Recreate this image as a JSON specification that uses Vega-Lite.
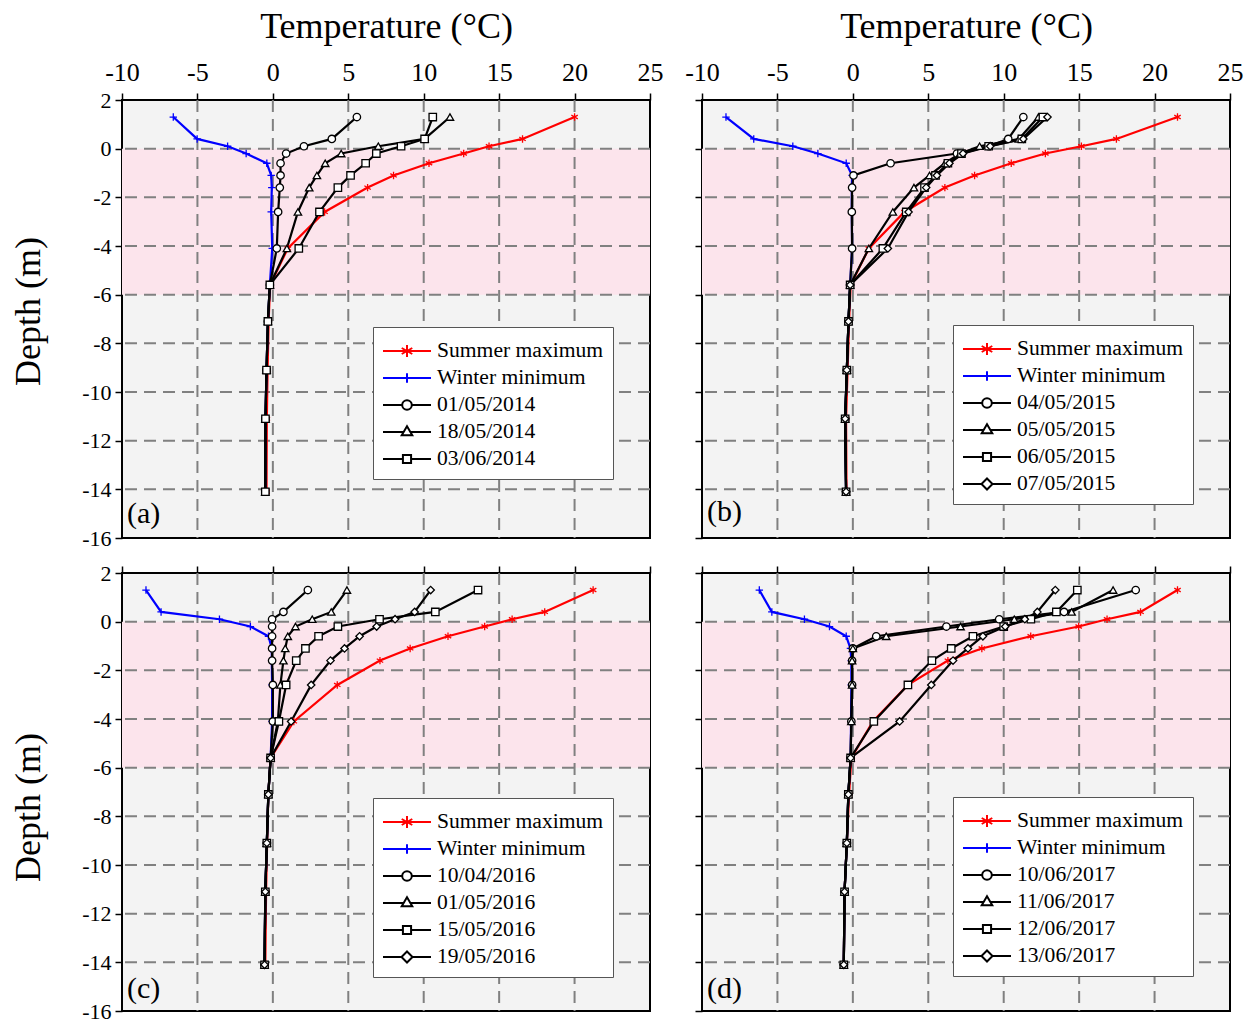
{
"$schema": "https://vega.github.io/schema/vega-lite/v6.json",
"background": "white",
"padding": {"left": 9, "top": 7, "right": 5, "bottom": 5},
"config": {
  "view": {"stroke": "black", "strokeWidth": 2, "fill": "#F3F3F3"},
  "axis": {"grid": false, "domain": false, "tickColor": "black", "tickWidth": 1.5, "labelFont": "Liberation Serif", "labelFontSize": 22, "labelColor": "black", "titleFont": "Liberation Serif", "titleFontSize": 36, "titleFontWeight": "normal", "titleColor": "black", "labelFlush": false, "labelOverlap": false, "labelBound": false},
  "legend": {"fillColor": "white", "strokeColor": "#555555", "padding": 9, "titleFontSize": 2, "titlePadding": 2, "symbolSize": 2304, "symbolStrokeWidth": 2, "symbolOpacity": 1, "symbolFillColor": "white", "labelFont": "Liberation Serif", "labelFontSize": 21.6, "labelColor": "black", "labelOffset": 5, "rowPadding": 5, "clipHeight": 22, "labelLimit": 400},
  "title": {"font": "Liberation Serif", "fontSize": 30, "fontWeight": "normal", "color": "black", "orient": "bottom", "anchor": "start", "frame": "group", "dx": 5}
},
"datasets": {
"a": [
{"series":"Summer maximum","depth":1.3,"temp":20.0},{"series":"Summer maximum","depth":0.4,"temp":16.55},{"series":"Summer maximum","depth":0.1,"temp":14.33},{"series":"Summer maximum","depth":-0.2,"temp":12.65},{"series":"Summer maximum","depth":-0.6,"temp":10.35},{"series":"Summer maximum","depth":-1.1,"temp":8.0},{"series":"Summer maximum","depth":-1.6,"temp":6.28},{"series":"Summer maximum","depth":-2.6,"temp":3.43},{"series":"Summer maximum","depth":-4.1,"temp":0.99},{"series":"Summer maximum","depth":-5.6,"temp":-0.18},{"series":"Summer maximum","depth":-7.1,"temp":-0.28},{"series":"Summer maximum","depth":-9.1,"temp":-0.35},{"series":"Summer maximum","depth":-11.1,"temp":-0.4},{"series":"Summer maximum","depth":-14.1,"temp":-0.42},
{"series":"Winter minimum","depth":1.3,"temp":-6.6},{"series":"Winter minimum","depth":0.4,"temp":-5.02},{"series":"Winter minimum","depth":0.1,"temp":-3.0},{"series":"Winter minimum","depth":-0.2,"temp":-1.77},{"series":"Winter minimum","depth":-0.6,"temp":-0.4},{"series":"Winter minimum","depth":-1.1,"temp":-0.11},{"series":"Winter minimum","depth":-1.6,"temp":-0.07},{"series":"Winter minimum","depth":-2.6,"temp":-0.11},{"series":"Winter minimum","depth":-4.1,"temp":-0.04},{"series":"Winter minimum","depth":-5.6,"temp":-0.2},{"series":"Winter minimum","depth":-7.1,"temp":-0.33},{"series":"Winter minimum","depth":-9.1,"temp":-0.42},{"series":"Winter minimum","depth":-11.1,"temp":-0.49},{"series":"Winter minimum","depth":-14.1,"temp":-0.5},
{"series":"01/05/2014","depth":1.3,"temp":5.57},{"series":"01/05/2014","depth":0.4,"temp":3.91},{"series":"01/05/2014","depth":0.1,"temp":2.06},{"series":"01/05/2014","depth":-0.2,"temp":0.88},{"series":"01/05/2014","depth":-0.6,"temp":0.51},{"series":"01/05/2014","depth":-1.1,"temp":0.51},{"series":"01/05/2014","depth":-1.6,"temp":0.46},{"series":"01/05/2014","depth":-2.6,"temp":0.35},{"series":"01/05/2014","depth":-4.1,"temp":0.26},{"series":"01/05/2014","depth":-5.6,"temp":-0.2},{"series":"01/05/2014","depth":-7.1,"temp":-0.33},{"series":"01/05/2014","depth":-9.1,"temp":-0.42},{"series":"01/05/2014","depth":-11.1,"temp":-0.49},{"series":"01/05/2014","depth":-14.1,"temp":-0.5},
{"series":"18/05/2014","depth":1.3,"temp":11.74},{"series":"18/05/2014","depth":0.4,"temp":10.06},{"series":"18/05/2014","depth":0.1,"temp":6.99},{"series":"18/05/2014","depth":-0.2,"temp":4.53},{"series":"18/05/2014","depth":-0.6,"temp":3.47},{"series":"18/05/2014","depth":-1.1,"temp":2.92},{"series":"18/05/2014","depth":-1.6,"temp":2.41},{"series":"18/05/2014","depth":-2.6,"temp":1.66},{"series":"18/05/2014","depth":-4.1,"temp":0.93},{"series":"18/05/2014","depth":-5.6,"temp":-0.2},{"series":"18/05/2014","depth":-7.1,"temp":-0.33},{"series":"18/05/2014","depth":-9.1,"temp":-0.42},{"series":"18/05/2014","depth":-11.1,"temp":-0.49},{"series":"18/05/2014","depth":-14.1,"temp":-0.5},
{"series":"03/06/2014","depth":1.3,"temp":10.6},{"series":"03/06/2014","depth":0.4,"temp":10.06},{"series":"03/06/2014","depth":0.1,"temp":8.5},{"series":"03/06/2014","depth":-0.2,"temp":6.86},{"series":"03/06/2014","depth":-0.6,"temp":6.15},{"series":"03/06/2014","depth":-1.1,"temp":5.15},{"series":"03/06/2014","depth":-1.6,"temp":4.31},{"series":"03/06/2014","depth":-2.6,"temp":3.09},{"series":"03/06/2014","depth":-4.1,"temp":1.72},{"series":"03/06/2014","depth":-5.6,"temp":-0.2},{"series":"03/06/2014","depth":-7.1,"temp":-0.33},{"series":"03/06/2014","depth":-9.1,"temp":-0.42},{"series":"03/06/2014","depth":-11.1,"temp":-0.49},{"series":"03/06/2014","depth":-14.1,"temp":-0.5}
],
"b": [
{"series":"Summer maximum","depth":1.3,"temp":21.52},{"series":"Summer maximum","depth":0.4,"temp":17.47},{"series":"Summer maximum","depth":0.1,"temp":15.15},{"series":"Summer maximum","depth":-0.2,"temp":12.76},{"series":"Summer maximum","depth":-0.6,"temp":10.5},{"series":"Summer maximum","depth":-1.1,"temp":8.07},{"series":"Summer maximum","depth":-1.6,"temp":6.1},{"series":"Summer maximum","depth":-2.6,"temp":3.42},{"series":"Summer maximum","depth":-4.1,"temp":1.06},{"series":"Summer maximum","depth":-5.6,"temp":-0.15},{"series":"Summer maximum","depth":-7.1,"temp":-0.25},{"series":"Summer maximum","depth":-9.1,"temp":-0.35},{"series":"Summer maximum","depth":-11.1,"temp":-0.45},{"series":"Summer maximum","depth":-14.1,"temp":-0.42},
{"series":"Winter minimum","depth":1.3,"temp":-8.41},{"series":"Winter minimum","depth":0.4,"temp":-6.57},{"series":"Winter minimum","depth":0.1,"temp":-3.98},{"series":"Winter minimum","depth":-0.2,"temp":-2.32},{"series":"Winter minimum","depth":-0.6,"temp":-0.44},{"series":"Winter minimum","depth":-1.1,"temp":-0.05},{"series":"Winter minimum","depth":-1.6,"temp":-0.07},{"series":"Winter minimum","depth":-2.6,"temp":-0.07},{"series":"Winter minimum","depth":-4.1,"temp":-0.05},{"series":"Winter minimum","depth":-5.6,"temp":-0.18},{"series":"Winter minimum","depth":-7.1,"temp":-0.29},{"series":"Winter minimum","depth":-9.1,"temp":-0.4},{"series":"Winter minimum","depth":-11.1,"temp":-0.51},{"series":"Winter minimum","depth":-14.1,"temp":-0.45},
{"series":"04/05/2015","depth":1.3,"temp":11.3},{"series":"04/05/2015","depth":0.4,"temp":10.3},{"series":"04/05/2015","depth":0.1,"temp":9.0},{"series":"04/05/2015","depth":-0.2,"temp":6.9},{"series":"04/05/2015","depth":-0.6,"temp":2.5},{"series":"04/05/2015","depth":-1.1,"temp":0.04},{"series":"04/05/2015","depth":-1.6,"temp":-0.05},{"series":"04/05/2015","depth":-2.6,"temp":-0.07},{"series":"04/05/2015","depth":-4.1,"temp":-0.05},{"series":"04/05/2015","depth":-5.6,"temp":-0.18},{"series":"04/05/2015","depth":-7.1,"temp":-0.29},{"series":"04/05/2015","depth":-9.1,"temp":-0.4},{"series":"04/05/2015","depth":-11.1,"temp":-0.51},{"series":"04/05/2015","depth":-14.1,"temp":-0.45},
{"series":"05/05/2015","depth":1.3,"temp":12.3},{"series":"05/05/2015","depth":0.4,"temp":11.0},{"series":"05/05/2015","depth":0.1,"temp":8.4},{"series":"05/05/2015","depth":-0.2,"temp":7.1},{"series":"05/05/2015","depth":-0.6,"temp":6.1},{"series":"05/05/2015","depth":-1.1,"temp":5.08},{"series":"05/05/2015","depth":-1.6,"temp":4.05},{"series":"05/05/2015","depth":-2.6,"temp":2.65},{"series":"05/05/2015","depth":-4.1,"temp":1.06},{"series":"05/05/2015","depth":-5.6,"temp":-0.18},{"series":"05/05/2015","depth":-7.1,"temp":-0.29},{"series":"05/05/2015","depth":-9.1,"temp":-0.4},{"series":"05/05/2015","depth":-11.1,"temp":-0.51},{"series":"05/05/2015","depth":-14.1,"temp":-0.45},
{"series":"06/05/2015","depth":1.3,"temp":12.6},{"series":"06/05/2015","depth":0.4,"temp":11.2},{"series":"06/05/2015","depth":0.1,"temp":9.0},{"series":"06/05/2015","depth":-0.2,"temp":7.2},{"series":"06/05/2015","depth":-0.6,"temp":6.3},{"series":"06/05/2015","depth":-1.1,"temp":5.48},{"series":"06/05/2015","depth":-1.6,"temp":4.75},{"series":"06/05/2015","depth":-2.6,"temp":3.54},{"series":"06/05/2015","depth":-4.1,"temp":1.99},{"series":"06/05/2015","depth":-5.6,"temp":-0.18},{"series":"06/05/2015","depth":-7.1,"temp":-0.29},{"series":"06/05/2015","depth":-9.1,"temp":-0.4},{"series":"06/05/2015","depth":-11.1,"temp":-0.51},{"series":"06/05/2015","depth":-14.1,"temp":-0.45},
{"series":"07/05/2015","depth":1.3,"temp":12.9},{"series":"07/05/2015","depth":0.4,"temp":11.3},{"series":"07/05/2015","depth":0.1,"temp":9.1},{"series":"07/05/2015","depth":-0.2,"temp":7.3},{"series":"07/05/2015","depth":-0.6,"temp":6.4},{"series":"07/05/2015","depth":-1.1,"temp":5.57},{"series":"07/05/2015","depth":-1.6,"temp":4.86},{"series":"07/05/2015","depth":-2.6,"temp":3.69},{"series":"07/05/2015","depth":-4.1,"temp":2.32},{"series":"07/05/2015","depth":-5.6,"temp":-0.18},{"series":"07/05/2015","depth":-7.1,"temp":-0.29},{"series":"07/05/2015","depth":-9.1,"temp":-0.4},{"series":"07/05/2015","depth":-11.1,"temp":-0.51},{"series":"07/05/2015","depth":-14.1,"temp":-0.45}
],
"c": [
{"series":"Summer maximum","depth":1.3,"temp":21.23},{"series":"Summer maximum","depth":0.4,"temp":18.02},{"series":"Summer maximum","depth":0.1,"temp":15.86},{"series":"Summer maximum","depth":-0.2,"temp":14.04},{"series":"Summer maximum","depth":-0.6,"temp":11.61},{"series":"Summer maximum","depth":-1.1,"temp":9.1},{"series":"Summer maximum","depth":-1.6,"temp":7.1},{"series":"Summer maximum","depth":-2.6,"temp":4.27},{"series":"Summer maximum","depth":-4.1,"temp":1.39},{"series":"Summer maximum","depth":-5.6,"temp":-0.15},{"series":"Summer maximum","depth":-7.1,"temp":-0.3},{"series":"Summer maximum","depth":-9.1,"temp":-0.38},{"series":"Summer maximum","depth":-11.1,"temp":-0.45},{"series":"Summer maximum","depth":-14.1,"temp":-0.5},
{"series":"Winter minimum","depth":1.3,"temp":-8.41},{"series":"Winter minimum","depth":0.4,"temp":-7.41},{"series":"Winter minimum","depth":0.1,"temp":-3.54},{"series":"Winter minimum","depth":-0.2,"temp":-1.49},{"series":"Winter minimum","depth":-0.6,"temp":-0.29},{"series":"Winter minimum","depth":-1.1,"temp":-0.07},{"series":"Winter minimum","depth":-1.6,"temp":-0.07},{"series":"Winter minimum","depth":-2.6,"temp":-0.05},{"series":"Winter minimum","depth":-4.1,"temp":-0.05},{"series":"Winter minimum","depth":-5.6,"temp":-0.15},{"series":"Winter minimum","depth":-7.1,"temp":-0.3},{"series":"Winter minimum","depth":-9.1,"temp":-0.4},{"series":"Winter minimum","depth":-11.1,"temp":-0.5},{"series":"Winter minimum","depth":-14.1,"temp":-0.55},
{"series":"10/04/2016","depth":1.3,"temp":2.32},{"series":"10/04/2016","depth":0.4,"temp":0.7},{"series":"10/04/2016","depth":0.1,"temp":-0.05},{"series":"10/04/2016","depth":-0.2,"temp":-0.05},{"series":"10/04/2016","depth":-0.6,"temp":-0.05},{"series":"10/04/2016","depth":-1.1,"temp":-0.05},{"series":"10/04/2016","depth":-1.6,"temp":-0.05},{"series":"10/04/2016","depth":-2.6,"temp":0.0},{"series":"10/04/2016","depth":-4.1,"temp":0.0},{"series":"10/04/2016","depth":-5.6,"temp":-0.15},{"series":"10/04/2016","depth":-7.1,"temp":-0.3},{"series":"10/04/2016","depth":-9.1,"temp":-0.4},{"series":"10/04/2016","depth":-11.1,"temp":-0.5},{"series":"10/04/2016","depth":-14.1,"temp":-0.55},
{"series":"01/05/2016","depth":1.3,"temp":4.91},{"series":"01/05/2016","depth":0.4,"temp":3.87},{"series":"01/05/2016","depth":0.1,"temp":2.61},{"series":"01/05/2016","depth":-0.2,"temp":1.5},{"series":"01/05/2016","depth":-0.6,"temp":0.99},{"series":"01/05/2016","depth":-1.1,"temp":0.82},{"series":"01/05/2016","depth":-1.6,"temp":0.7},{"series":"01/05/2016","depth":-2.6,"temp":0.5},{"series":"01/05/2016","depth":-4.1,"temp":0.33},{"series":"01/05/2016","depth":-5.6,"temp":-0.15},{"series":"01/05/2016","depth":-7.1,"temp":-0.3},{"series":"01/05/2016","depth":-9.1,"temp":-0.4},{"series":"01/05/2016","depth":-11.1,"temp":-0.5},{"series":"01/05/2016","depth":-14.1,"temp":-0.55},
{"series":"15/05/2016","depth":1.3,"temp":13.6},{"series":"15/05/2016","depth":0.4,"temp":10.77},{"series":"15/05/2016","depth":0.1,"temp":7.07},{"series":"15/05/2016","depth":-0.2,"temp":4.31},{"series":"15/05/2016","depth":-0.6,"temp":3.03},{"series":"15/05/2016","depth":-1.1,"temp":2.16},{"series":"15/05/2016","depth":-1.6,"temp":1.55},{"series":"15/05/2016","depth":-2.6,"temp":0.88},{"series":"15/05/2016","depth":-4.1,"temp":0.4},{"series":"15/05/2016","depth":-5.6,"temp":-0.15},{"series":"15/05/2016","depth":-7.1,"temp":-0.3},{"series":"15/05/2016","depth":-9.1,"temp":-0.4},{"series":"15/05/2016","depth":-11.1,"temp":-0.5},{"series":"15/05/2016","depth":-14.1,"temp":-0.55},
{"series":"19/05/2016","depth":1.3,"temp":10.46},{"series":"19/05/2016","depth":0.4,"temp":9.4},{"series":"19/05/2016","depth":0.1,"temp":8.1},{"series":"19/05/2016","depth":-0.2,"temp":6.88},{"series":"19/05/2016","depth":-0.6,"temp":5.75},{"series":"19/05/2016","depth":-1.1,"temp":4.75},{"series":"19/05/2016","depth":-1.6,"temp":3.82},{"series":"19/05/2016","depth":-2.6,"temp":2.54},{"series":"19/05/2016","depth":-4.1,"temp":1.21},{"series":"19/05/2016","depth":-5.6,"temp":-0.15},{"series":"19/05/2016","depth":-7.1,"temp":-0.3},{"series":"19/05/2016","depth":-9.1,"temp":-0.4},{"series":"19/05/2016","depth":-11.1,"temp":-0.5},{"series":"19/05/2016","depth":-14.1,"temp":-0.55}
],
"d": [
{"series":"Summer maximum","depth":1.3,"temp":21.52},{"series":"Summer maximum","depth":0.4,"temp":19.07},{"series":"Summer maximum","depth":0.1,"temp":16.85},{"series":"Summer maximum","depth":-0.2,"temp":14.97},{"series":"Summer maximum","depth":-0.6,"temp":11.79},{"series":"Summer maximum","depth":-1.1,"temp":8.55},{"series":"Summer maximum","depth":-1.6,"temp":6.3},{"series":"Summer maximum","depth":-2.6,"temp":3.65},{"series":"Summer maximum","depth":-4.1,"temp":1.33},{"series":"Summer maximum","depth":-5.6,"temp":-0.1},{"series":"Summer maximum","depth":-7.1,"temp":-0.25},{"series":"Summer maximum","depth":-9.1,"temp":-0.4},{"series":"Summer maximum","depth":-11.1,"temp":-0.55},{"series":"Summer maximum","depth":-14.1,"temp":-0.6},
{"series":"Winter minimum","depth":1.3,"temp":-6.2},{"series":"Winter minimum","depth":0.4,"temp":-5.37},{"series":"Winter minimum","depth":0.1,"temp":-3.21},{"series":"Winter minimum","depth":-0.2,"temp":-1.55},{"series":"Winter minimum","depth":-0.6,"temp":-0.44},{"series":"Winter minimum","depth":-1.1,"temp":-0.16},{"series":"Winter minimum","depth":-1.6,"temp":-0.1},{"series":"Winter minimum","depth":-2.6,"temp":-0.1},{"series":"Winter minimum","depth":-4.1,"temp":-0.12},{"series":"Winter minimum","depth":-5.6,"temp":-0.15},{"series":"Winter minimum","depth":-7.1,"temp":-0.3},{"series":"Winter minimum","depth":-9.1,"temp":-0.4},{"series":"Winter minimum","depth":-11.1,"temp":-0.55},{"series":"Winter minimum","depth":-14.1,"temp":-0.6},
{"series":"10/06/2017","depth":1.3,"temp":18.75},{"series":"10/06/2017","depth":0.4,"temp":14.0},{"series":"10/06/2017","depth":0.1,"temp":9.7},{"series":"10/06/2017","depth":-0.2,"temp":6.2},{"series":"10/06/2017","depth":-0.6,"temp":1.55},{"series":"10/06/2017","depth":-1.1,"temp":0.0},{"series":"10/06/2017","depth":-1.6,"temp":-0.05},{"series":"10/06/2017","depth":-2.6,"temp":-0.05},{"series":"10/06/2017","depth":-4.1,"temp":-0.1},{"series":"10/06/2017","depth":-5.6,"temp":-0.15},{"series":"10/06/2017","depth":-7.1,"temp":-0.3},{"series":"10/06/2017","depth":-9.1,"temp":-0.4},{"series":"10/06/2017","depth":-11.1,"temp":-0.55},{"series":"10/06/2017","depth":-14.1,"temp":-0.6},
{"series":"11/06/2017","depth":1.3,"temp":17.25},{"series":"11/06/2017","depth":0.4,"temp":14.5},{"series":"11/06/2017","depth":0.1,"temp":10.7},{"series":"11/06/2017","depth":-0.2,"temp":7.14},{"series":"11/06/2017","depth":-0.6,"temp":2.21},{"series":"11/06/2017","depth":-1.1,"temp":0.0},{"series":"11/06/2017","depth":-1.6,"temp":-0.05},{"series":"11/06/2017","depth":-2.6,"temp":-0.05},{"series":"11/06/2017","depth":-4.1,"temp":-0.1},{"series":"11/06/2017","depth":-5.6,"temp":-0.15},{"series":"11/06/2017","depth":-7.1,"temp":-0.3},{"series":"11/06/2017","depth":-9.1,"temp":-0.4},{"series":"11/06/2017","depth":-11.1,"temp":-0.55},{"series":"11/06/2017","depth":-14.1,"temp":-0.6},
{"series":"12/06/2017","depth":1.3,"temp":14.88},{"series":"12/06/2017","depth":0.4,"temp":13.49},{"series":"12/06/2017","depth":0.1,"temp":11.8},{"series":"12/06/2017","depth":-0.2,"temp":10.0},{"series":"12/06/2017","depth":-0.6,"temp":7.96},{"series":"12/06/2017","depth":-1.1,"temp":6.52},{"series":"12/06/2017","depth":-1.6,"temp":5.24},{"series":"12/06/2017","depth":-2.6,"temp":3.65},{"series":"12/06/2017","depth":-4.1,"temp":1.39},{"series":"12/06/2017","depth":-5.6,"temp":-0.15},{"series":"12/06/2017","depth":-7.1,"temp":-0.3},{"series":"12/06/2017","depth":-9.1,"temp":-0.4},{"series":"12/06/2017","depth":-11.1,"temp":-0.55},{"series":"12/06/2017","depth":-14.1,"temp":-0.6},
{"series":"13/06/2017","depth":1.3,"temp":13.42},{"series":"13/06/2017","depth":0.4,"temp":12.23},{"series":"13/06/2017","depth":0.1,"temp":11.4},{"series":"13/06/2017","depth":-0.2,"temp":10.1},{"series":"13/06/2017","depth":-0.6,"temp":8.62},{"series":"13/06/2017","depth":-1.1,"temp":7.63},{"series":"13/06/2017","depth":-1.6,"temp":6.64},{"series":"13/06/2017","depth":-2.6,"temp":5.2},{"series":"13/06/2017","depth":-4.1,"temp":3.1},{"series":"13/06/2017","depth":-5.6,"temp":-0.15},{"series":"13/06/2017","depth":-7.1,"temp":-0.3},{"series":"13/06/2017","depth":-9.1,"temp":-0.4},{"series":"13/06/2017","depth":-11.1,"temp":-0.55},{"series":"13/06/2017","depth":-14.1,"temp":-0.6}
]
},
"columns": 2,
"spacing": {"row": 35, "column": 52},
"bounds": "flush",
"resolve": {"scale": {"stroke": "independent", "shape": "independent"}, "legend": {"stroke": "independent", "shape": "independent"}},
"concat": [
{
 "width": 528, "height": 438,
 "title": {"text": "(a)", "offset": -50},
 "resolve": {"scale": {"stroke": "independent", "shape": "independent"}, "legend": {"stroke": "independent", "shape": "independent"}},
 "layer": [
  {"data": {"values": [{"top": 0, "bottom": -6}]}, "mark": {"type": "rect", "color": "#FCE4EC"}, "encoding": {"y": {"field": "top", "type": "quantitative", "scale": {"domain": [-16, 2], "nice": false, "zero": false}, "axis": {"orient": "left", "title": "Depth (m)", "titlePadding": 34, "titleY": 211, "labelPadding": 4, "values": [-16,-15,-14,-13,-12,-11,-10,-9,-8,-7,-6,-5,-4,-3,-2,-1,0,1,2], "labelExpr": "datum.value % 2 == 0 ? '' + datum.value : ''", "tickSize": {"condition": {"test": "datum.value % 2 != 0", "value": 4}, "value": 7}}}, "y2": {"field": "bottom"}}},
  {"data": {"values": [{"g": -5}, {"g": 0}, {"g": 5}, {"g": 10}, {"g": 15}, {"g": 20}]}, "mark": {"type": "rule", "color": "#808080", "strokeWidth": 2, "strokeDash": [12, 7]}, "encoding": {"x": {"field": "g", "type": "quantitative", "scale": {"domain": [-10, 25], "nice": false, "zero": false}, "axis": {"orient": "top", "title": "Temperature (°C)", "titlePadding": 14, "labelPadding": 8, "labelFontSize": 26, "values": [-10,-7.5,-5,-2.5,0,2.5,5,7.5,10,12.5,15,17.5,20,22.5,25], "labelExpr": "datum.value % 5 == 0 ? '' + datum.value : ''", "tickSize": {"condition": {"test": "datum.value % 5 != 0", "value": 4}, "value": 7}}}}},
  {"data": {"values": [{"g": 0}, {"g": -2}, {"g": -4}, {"g": -6}, {"g": -8}, {"g": -10}, {"g": -12}, {"g": -14}]}, "mark": {"type": "rule", "color": "#808080", "strokeWidth": 2, "strokeDash": [12, 7]}, "encoding": {"y": {"field": "g", "type": "quantitative"}}},
  {"data": {"name": "a"}, "mark": {"type": "line", "strokeWidth": 2.2},
   "encoding": {
    "x": {"field": "temp", "type": "quantitative"},
    "y": {"field": "depth", "type": "quantitative"},
    "stroke": {"field": "series", "type": "nominal", "legend": null, "scale": {"domain": ["Summer maximum", "Winter minimum", "01/05/2014", "18/05/2014", "03/06/2014"], "range": ["#FF0000", "#0000FF", "#000000", "#000000", "#000000"]}},
    "order": {"field": "depth", "sort": "descending"}
   }},
  {"data": {"name": "a"}, "mark": {"type": "point", "size": 55, "strokeWidth": 1.3, "opacity": 1},
   "encoding": {
    "x": {"field": "temp", "type": "quantitative"},
    "y": {"field": "depth", "type": "quantitative"},
    "stroke": {"field": "series", "type": "nominal", "legend": null, "scale": {"domain": ["Summer maximum", "Winter minimum", "01/05/2014", "18/05/2014", "03/06/2014"], "range": ["#FF0000", "#0000FF", "#000000", "#000000", "#000000"]}},
    "shape": {"field": "series", "type": "nominal", "legend": null, "scale": {"domain": ["Summer maximum", "Winter minimum", "01/05/2014", "18/05/2014", "03/06/2014"], "range": ["M0,-1V1M-0.87,-0.5L0.87,0.5M-0.87,0.5L0.87,-0.5", "M-1,0H1M0,-1V1", "circle", "triangle-up", "square"]}},
    "fill": {"value": "white"}
   }},
  {"data": {"name": "a"}, "mark": {"type": "point", "opacity": 0},
   "encoding": {
    "x": {"field": "temp", "type": "quantitative"},
    "y": {"field": "depth", "type": "quantitative"},
    "stroke": {"field": "series", "type": "nominal", "legend": {"title": " ", "orient": "none", "legendX": 251, "legendY": 227}, "scale": {"domain": ["Summer maximum", "Winter minimum", "01/05/2014", "18/05/2014", "03/06/2014"], "range": ["#FF0000", "#0000FF", "#000000", "#000000", "#000000"]}},
    "shape": {"field": "series", "type": "nominal", "legend": {"title": " ", "orient": "none", "legendX": 251, "legendY": 227}, "scale": {"domain": ["Summer maximum", "Winter minimum", "01/05/2014", "18/05/2014", "03/06/2014"], "range": ["M-1,0H1M0,-0.25V0.25M-0.22,-0.125L0.22,0.125M-0.22,0.125L0.22,-0.125", "M-1,0H1M0,-0.2V0.2", "M-1,0H-0.2M0.2,0H1M-0.2,0A0.2,0.2 0 1 0 0.2,0A0.2,0.2 0 1 0 -0.2,0Z", "M-1,0H-0.13M0.13,0H1M0,-0.24L0.22,0.14L-0.22,0.14Z", "M-1,0H-0.17M0.17,0H1M-0.17,-0.17H0.17V0.17H-0.17Z"]}}
   }}
 ]
},
{
 "width": 528, "height": 438,
 "title": {"text": "(b)", "offset": -42},
 "resolve": {"scale": {"stroke": "independent", "shape": "independent"}, "legend": {"stroke": "independent", "shape": "independent"}},
 "layer": [
  {"data": {"values": [{"top": 0, "bottom": -6}]}, "mark": {"type": "rect", "color": "#FCE4EC"}, "encoding": {"y": {"field": "top", "type": "quantitative", "scale": {"domain": [-16, 2], "nice": false, "zero": false}, "axis": {"orient": "left", "title": null, "labels": false, "values": [-16,-15,-14,-13,-12,-11,-10,-9,-8,-7,-6,-5,-4,-3,-2,-1,0,1,2], "tickSize": {"condition": {"test": "datum.value % 2 != 0", "value": 4}, "value": 7}}}, "y2": {"field": "bottom"}}},
  {"data": {"values": [{"g": -5}, {"g": 0}, {"g": 5}, {"g": 10}, {"g": 15}, {"g": 20}]}, "mark": {"type": "rule", "color": "#808080", "strokeWidth": 2, "strokeDash": [12, 7]}, "encoding": {"x": {"field": "g", "type": "quantitative", "scale": {"domain": [-10, 25], "nice": false, "zero": false}, "axis": {"orient": "top", "title": "Temperature (°C)", "titlePadding": 14, "labelPadding": 8, "labelFontSize": 26, "values": [-10,-7.5,-5,-2.5,0,2.5,5,7.5,10,12.5,15,17.5,20,22.5,25], "labelExpr": "datum.value % 5 == 0 ? '' + datum.value : ''", "tickSize": {"condition": {"test": "datum.value % 5 != 0", "value": 4}, "value": 7}}}}},
  {"data": {"values": [{"g": 0}, {"g": -2}, {"g": -4}, {"g": -6}, {"g": -8}, {"g": -10}, {"g": -12}, {"g": -14}]}, "mark": {"type": "rule", "color": "#808080", "strokeWidth": 2, "strokeDash": [12, 7]}, "encoding": {"y": {"field": "g", "type": "quantitative"}}},
  {"data": {"name": "b"}, "mark": {"type": "line", "strokeWidth": 2.2},
   "encoding": {
    "x": {"field": "temp", "type": "quantitative"},
    "y": {"field": "depth", "type": "quantitative"},
    "stroke": {"field": "series", "type": "nominal", "legend": null, "scale": {"domain": ["Summer maximum", "Winter minimum", "04/05/2015", "05/05/2015", "06/05/2015", "07/05/2015"], "range": ["#FF0000", "#0000FF", "#000000", "#000000", "#000000", "#000000"]}},
    "order": {"field": "depth", "sort": "descending"}
   }},
  {"data": {"name": "b"}, "mark": {"type": "point", "size": 55, "strokeWidth": 1.3, "opacity": 1},
   "encoding": {
    "x": {"field": "temp", "type": "quantitative"},
    "y": {"field": "depth", "type": "quantitative"},
    "stroke": {"field": "series", "type": "nominal", "legend": null, "scale": {"domain": ["Summer maximum", "Winter minimum", "04/05/2015", "05/05/2015", "06/05/2015", "07/05/2015"], "range": ["#FF0000", "#0000FF", "#000000", "#000000", "#000000", "#000000"]}},
    "shape": {"field": "series", "type": "nominal", "legend": null, "scale": {"domain": ["Summer maximum", "Winter minimum", "04/05/2015", "05/05/2015", "06/05/2015", "07/05/2015"], "range": ["M0,-1V1M-0.87,-0.5L0.87,0.5M-0.87,0.5L0.87,-0.5", "M-1,0H1M0,-1V1", "circle", "triangle-up", "square", "diamond"]}},
    "fill": {"value": "white"}
   }},
  {"data": {"name": "b"}, "mark": {"type": "point", "opacity": 0},
   "encoding": {
    "x": {"field": "temp", "type": "quantitative"},
    "y": {"field": "depth", "type": "quantitative"},
    "stroke": {"field": "series", "type": "nominal", "legend": {"title": " ", "orient": "none", "legendX": 251, "legendY": 225}, "scale": {"domain": ["Summer maximum", "Winter minimum", "04/05/2015", "05/05/2015", "06/05/2015", "07/05/2015"], "range": ["#FF0000", "#0000FF", "#000000", "#000000", "#000000", "#000000"]}},
    "shape": {"field": "series", "type": "nominal", "legend": {"title": " ", "orient": "none", "legendX": 251, "legendY": 225}, "scale": {"domain": ["Summer maximum", "Winter minimum", "04/05/2015", "05/05/2015", "06/05/2015", "07/05/2015"], "range": ["M-1,0H1M0,-0.25V0.25M-0.22,-0.125L0.22,0.125M-0.22,0.125L0.22,-0.125", "M-1,0H1M0,-0.2V0.2", "M-1,0H-0.2M0.2,0H1M-0.2,0A0.2,0.2 0 1 0 0.2,0A0.2,0.2 0 1 0 -0.2,0Z", "M-1,0H-0.13M0.13,0H1M0,-0.24L0.22,0.14L-0.22,0.14Z", "M-1,0H-0.17M0.17,0H1M-0.17,-0.17H0.17V0.17H-0.17Z", "M-1,0H-0.23M0.23,0H1M0,-0.23L0.23,0L0,0.23L-0.23,0Z"]}}
   }}
 ]
},
{
 "width": 528, "height": 438,
 "title": {"text": "(c)", "offset": -48},
 "resolve": {"scale": {"stroke": "independent", "shape": "independent"}, "legend": {"stroke": "independent", "shape": "independent"}},
 "layer": [
  {"data": {"values": [{"top": 0, "bottom": -6}]}, "mark": {"type": "rect", "color": "#FCE4EC"}, "encoding": {"y": {"field": "top", "type": "quantitative", "scale": {"domain": [-16, 2], "nice": false, "zero": false}, "axis": {"orient": "left", "title": "Depth (m)", "titlePadding": 34, "titleY": 234, "labelPadding": 4, "values": [-16,-15,-14,-13,-12,-11,-10,-9,-8,-7,-6,-5,-4,-3,-2,-1,0,1,2], "labelExpr": "datum.value % 2 == 0 ? '' + datum.value : ''", "tickSize": {"condition": {"test": "datum.value % 2 != 0", "value": 4}, "value": 7}}}, "y2": {"field": "bottom"}}},
  {"data": {"values": [{"g": -5}, {"g": 0}, {"g": 5}, {"g": 10}, {"g": 15}, {"g": 20}]}, "mark": {"type": "rule", "color": "#808080", "strokeWidth": 2, "strokeDash": [12, 7]}, "encoding": {"x": {"field": "g", "type": "quantitative", "scale": {"domain": [-10, 25], "nice": false, "zero": false}, "axis": {"orient": "top", "title": null, "labels": false, "values": [-10,-7.5,-5,-2.5,0,2.5,5,7.5,10,12.5,15,17.5,20,22.5,25], "tickSize": {"condition": {"test": "datum.value % 5 != 0", "value": 4}, "value": 7}}}}},
  {"data": {"values": [{"g": 0}, {"g": -2}, {"g": -4}, {"g": -6}, {"g": -8}, {"g": -10}, {"g": -12}, {"g": -14}]}, "mark": {"type": "rule", "color": "#808080", "strokeWidth": 2, "strokeDash": [12, 7]}, "encoding": {"y": {"field": "g", "type": "quantitative"}}},
  {"data": {"name": "c"}, "mark": {"type": "line", "strokeWidth": 2.2},
   "encoding": {
    "x": {"field": "temp", "type": "quantitative"},
    "y": {"field": "depth", "type": "quantitative"},
    "stroke": {"field": "series", "type": "nominal", "legend": null, "scale": {"domain": ["Summer maximum", "Winter minimum", "10/04/2016", "01/05/2016", "15/05/2016", "19/05/2016"], "range": ["#FF0000", "#0000FF", "#000000", "#000000", "#000000", "#000000"]}},
    "order": {"field": "depth", "sort": "descending"}
   }},
  {"data": {"name": "c"}, "mark": {"type": "point", "size": 55, "strokeWidth": 1.3, "opacity": 1},
   "encoding": {
    "x": {"field": "temp", "type": "quantitative"},
    "y": {"field": "depth", "type": "quantitative"},
    "stroke": {"field": "series", "type": "nominal", "legend": null, "scale": {"domain": ["Summer maximum", "Winter minimum", "10/04/2016", "01/05/2016", "15/05/2016", "19/05/2016"], "range": ["#FF0000", "#0000FF", "#000000", "#000000", "#000000", "#000000"]}},
    "shape": {"field": "series", "type": "nominal", "legend": null, "scale": {"domain": ["Summer maximum", "Winter minimum", "10/04/2016", "01/05/2016", "15/05/2016", "19/05/2016"], "range": ["M0,-1V1M-0.87,-0.5L0.87,0.5M-0.87,0.5L0.87,-0.5", "M-1,0H1M0,-1V1", "circle", "triangle-up", "square", "diamond"]}},
    "fill": {"value": "white"}
   }},
  {"data": {"name": "c"}, "mark": {"type": "point", "opacity": 0},
   "encoding": {
    "x": {"field": "temp", "type": "quantitative"},
    "y": {"field": "depth", "type": "quantitative"},
    "stroke": {"field": "series", "type": "nominal", "legend": {"title": " ", "orient": "none", "legendX": 251, "legendY": 225}, "scale": {"domain": ["Summer maximum", "Winter minimum", "10/04/2016", "01/05/2016", "15/05/2016", "19/05/2016"], "range": ["#FF0000", "#0000FF", "#000000", "#000000", "#000000", "#000000"]}},
    "shape": {"field": "series", "type": "nominal", "legend": {"title": " ", "orient": "none", "legendX": 251, "legendY": 225}, "scale": {"domain": ["Summer maximum", "Winter minimum", "10/04/2016", "01/05/2016", "15/05/2016", "19/05/2016"], "range": ["M-1,0H1M0,-0.25V0.25M-0.22,-0.125L0.22,0.125M-0.22,0.125L0.22,-0.125", "M-1,0H1M0,-0.2V0.2", "M-1,0H-0.2M0.2,0H1M-0.2,0A0.2,0.2 0 1 0 0.2,0A0.2,0.2 0 1 0 -0.2,0Z", "M-1,0H-0.13M0.13,0H1M0,-0.24L0.22,0.14L-0.22,0.14Z", "M-1,0H-0.17M0.17,0H1M-0.17,-0.17H0.17V0.17H-0.17Z", "M-1,0H-0.23M0.23,0H1M0,-0.23L0.23,0L0,0.23L-0.23,0Z"]}}
   }}
 ]
},
{
 "width": 528, "height": 438,
 "title": {"text": "(d)", "offset": -38},
 "resolve": {"scale": {"stroke": "independent", "shape": "independent"}, "legend": {"stroke": "independent", "shape": "independent"}},
 "layer": [
  {"data": {"values": [{"top": 0, "bottom": -6}]}, "mark": {"type": "rect", "color": "#FCE4EC"}, "encoding": {"y": {"field": "top", "type": "quantitative", "scale": {"domain": [-16, 2], "nice": false, "zero": false}, "axis": {"orient": "left", "title": null, "labels": false, "values": [-16,-15,-14,-13,-12,-11,-10,-9,-8,-7,-6,-5,-4,-3,-2,-1,0,1,2], "tickSize": {"condition": {"test": "datum.value % 2 != 0", "value": 4}, "value": 7}}}, "y2": {"field": "bottom"}}},
  {"data": {"values": [{"g": -5}, {"g": 0}, {"g": 5}, {"g": 10}, {"g": 15}, {"g": 20}]}, "mark": {"type": "rule", "color": "#808080", "strokeWidth": 2, "strokeDash": [12, 7]}, "encoding": {"x": {"field": "g", "type": "quantitative", "scale": {"domain": [-10, 25], "nice": false, "zero": false}, "axis": {"orient": "top", "title": null, "labels": false, "values": [-10,-7.5,-5,-2.5,0,2.5,5,7.5,10,12.5,15,17.5,20,22.5,25], "tickSize": {"condition": {"test": "datum.value % 5 != 0", "value": 4}, "value": 7}}}}},
  {"data": {"values": [{"g": 0}, {"g": -2}, {"g": -4}, {"g": -6}, {"g": -8}, {"g": -10}, {"g": -12}, {"g": -14}]}, "mark": {"type": "rule", "color": "#808080", "strokeWidth": 2, "strokeDash": [12, 7]}, "encoding": {"y": {"field": "g", "type": "quantitative"}}},
  {"data": {"name": "d"}, "mark": {"type": "line", "strokeWidth": 2.2},
   "encoding": {
    "x": {"field": "temp", "type": "quantitative"},
    "y": {"field": "depth", "type": "quantitative"},
    "stroke": {"field": "series", "type": "nominal", "legend": null, "scale": {"domain": ["Summer maximum", "Winter minimum", "10/06/2017", "11/06/2017", "12/06/2017", "13/06/2017"], "range": ["#FF0000", "#0000FF", "#000000", "#000000", "#000000", "#000000"]}},
    "order": {"field": "depth", "sort": "descending"}
   }},
  {"data": {"name": "d"}, "mark": {"type": "point", "size": 55, "strokeWidth": 1.3, "opacity": 1},
   "encoding": {
    "x": {"field": "temp", "type": "quantitative"},
    "y": {"field": "depth", "type": "quantitative"},
    "stroke": {"field": "series", "type": "nominal", "legend": null, "scale": {"domain": ["Summer maximum", "Winter minimum", "10/06/2017", "11/06/2017", "12/06/2017", "13/06/2017"], "range": ["#FF0000", "#0000FF", "#000000", "#000000", "#000000", "#000000"]}},
    "shape": {"field": "series", "type": "nominal", "legend": null, "scale": {"domain": ["Summer maximum", "Winter minimum", "10/06/2017", "11/06/2017", "12/06/2017", "13/06/2017"], "range": ["M0,-1V1M-0.87,-0.5L0.87,0.5M-0.87,0.5L0.87,-0.5", "M-1,0H1M0,-1V1", "circle", "triangle-up", "square", "diamond"]}},
    "fill": {"value": "white"}
   }},
  {"data": {"name": "d"}, "mark": {"type": "point", "opacity": 0},
   "encoding": {
    "x": {"field": "temp", "type": "quantitative"},
    "y": {"field": "depth", "type": "quantitative"},
    "stroke": {"field": "series", "type": "nominal", "legend": {"title": " ", "orient": "none", "legendX": 251, "legendY": 224}, "scale": {"domain": ["Summer maximum", "Winter minimum", "10/06/2017", "11/06/2017", "12/06/2017", "13/06/2017"], "range": ["#FF0000", "#0000FF", "#000000", "#000000", "#000000", "#000000"]}},
    "shape": {"field": "series", "type": "nominal", "legend": {"title": " ", "orient": "none", "legendX": 251, "legendY": 224}, "scale": {"domain": ["Summer maximum", "Winter minimum", "10/06/2017", "11/06/2017", "12/06/2017", "13/06/2017"], "range": ["M-1,0H1M0,-0.25V0.25M-0.22,-0.125L0.22,0.125M-0.22,0.125L0.22,-0.125", "M-1,0H1M0,-0.2V0.2", "M-1,0H-0.2M0.2,0H1M-0.2,0A0.2,0.2 0 1 0 0.2,0A0.2,0.2 0 1 0 -0.2,0Z", "M-1,0H-0.13M0.13,0H1M0,-0.24L0.22,0.14L-0.22,0.14Z", "M-1,0H-0.17M0.17,0H1M-0.17,-0.17H0.17V0.17H-0.17Z", "M-1,0H-0.23M0.23,0H1M0,-0.23L0.23,0L0,0.23L-0.23,0Z"]}}
   }}
 ]
}
]
}
